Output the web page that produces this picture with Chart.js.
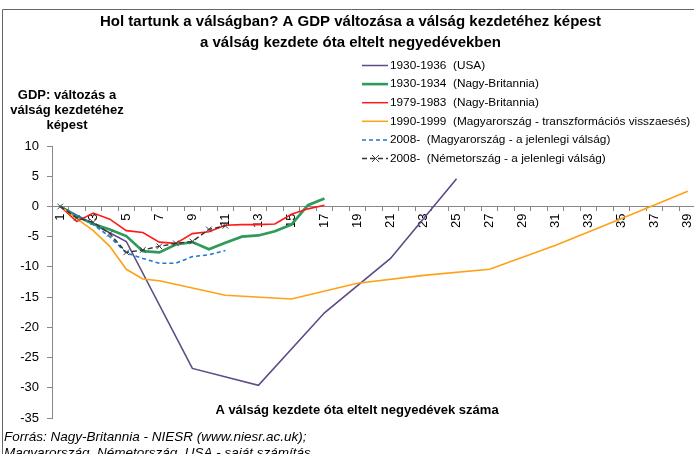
<!DOCTYPE html>
<html>
<head>
<meta charset="utf-8">
<script src="https://cdn.jsdelivr.net/npm/chart.js@4.4.1/dist/chart.umd.min.js"></script>
<style>
  html, body { margin: 0; background: #fff; overflow: hidden; }
  #wrap { width: 694px; height: 454px; position: relative; overflow: hidden; }
</style>
</head>
<body>
<div id="wrap"><canvas id="myChart" width="701" height="454"></canvas></div>
<script>
// negyedévek (x tengely)
const quarters = ['1','2','3','4','5','6','7','8','9','10','11','12','13','14','15','16','17','18','19','20',
    '21','22','23','24','25','26','27','28','29','30','31','32','33','34','35','36','37','38','39'];
const yTicks = [10, 5, 0, -5, -10, -15, -20, -25, -30, -35];

const seriesNames = [
    '1930-1936  (USA)',
    '1930-1934  (Nagy-Britannia)',
    '1979-1983  (Nagy-Britannia)',
    '1990-1999  (Magyarország - transzformációs visszaesés)',
    '2008-  (Magyarország - a jelenlegi válság)',
    '2008-  (Németország - a jelenlegi válság)'
];

// GDP változás (%) a válság kezdetéhez képest
const usa1930 = [0, null, null, null, -5.8, null, null, null, -26.8, null, null, null, -29.6, null, null, null,
    -17.6, null, null, null, -8.6, null, null, null, 4.6];
const uk1930 = [0, -1.6, -2.9, -3.8, -4.9, -7.4, -7.6, -6.3, -5.9, -7.1, -6.0, -5.0, -4.8, -4.1, -3.0, 0.2, 1.3];
const uk1979 = [0, -2.5, -1.1, -2.1, -4.0, -4.3, -5.9, -6.1, -4.5, -4.2, -3.1, -3.0, -3.0, -2.9, -1.3, -0.4, 0.2];
const hu1990 = [0, -2.0, -4.0, -6.6, -10.4, -12.0, -12.3, null, null, null, -14.7, null, null, null, -15.3, null,
    null, null, -12.7, null, null, null, -11.4, null, null, null, -10.4, null, null, null, -6.4, null,
    null, null, -2.0, null, null, null, 2.5];
const hu2008 = [0, -1.5, -3.0, -5.0, -7.7, -8.6, -9.4, -9.4, -8.3, -8.0, -7.3];
const de2008 = [0, -1.9, -2.6, -4.5, -7.6, -7.2, -6.6, -6.1, -5.8, -3.8, -3.2];

const FONT = '"Liberation Sans", Arial, sans-serif';
Chart.defaults.font.family = FONT;
Chart.defaults.color = '#000';

const datasets = [
    { label: seriesNames[0], data: usa1930, borderColor: '#5e4b86', borderWidth: 1.6 },
    { label: seriesNames[1], data: uk1930, borderColor: '#2f9a5b', borderWidth: 2.7 },
    { label: seriesNames[2], data: uk1979, borderColor: '#ff1a1a', borderWidth: 1.6 },
    { label: seriesNames[3], data: hu1990, borderColor: '#ffa114', borderWidth: 1.6 },
    { label: seriesNames[4], data: hu2008, borderColor: '#1f78cc', borderWidth: 1.6, borderDash: [4, 3] },
    { label: seriesNames[5], data: de2008, borderColor: '#333333', borderWidth: 1.4, borderDash: [5, 3],
      pointStyle: 'crossRot', pointRadius: 4, pointBorderColor: '#444', pointBorderWidth: 1 }
];
datasets.forEach(d => { d.fill = false; d.tension = 0; d.spanGaps = true; if (d.pointRadius === undefined) d.pointRadius = 0; });
// a fekete vonal legyen felül
datasets.forEach((d, i) => { d.order = datasets.length - i; });

// feliratok, jelmagyarázat, keret
const decor = {
    id: 'decor',
    afterDraw(chart) {
        const c = chart.ctx;
        c.save();
        // keret
        c.strokeStyle = '#666';
        c.lineWidth = 1;
        c.beginPath();
        c.moveTo(2.5, 454);
        c.lineTo(2.5, 9.5);
        c.lineTo(701, 9.5);
        c.stroke();

        // y tengely címe
        c.fillStyle = '#000';
        c.textAlign = 'center';
        c.textBaseline = 'middle';
        c.font = 'bold 13px ' + FONT;
        ['GDP: változás a', 'válság kezdetéhez', 'képest'].forEach((t, i) => c.fillText(t, 67, 95 + i * 15));

        // x tengely címe
        c.fillText('A válság kezdete óta eltelt negyedévek száma', 357, 410);

        // forrás
        c.textAlign = 'left';
        c.font = 'italic 13.5px ' + FONT;
        c.fillText('Forrás: Nagy-Britannia - NIESR (www.niesr.ac.uk);', 4, 437);
        c.fillText('Magyarország, Németország, USA - saját számítás', 4, 453);

        // jelmagyarázat
        c.font = '11.8px ' + FONT;
        chart.data.datasets.forEach((d, i) => {
            const y = 65.5 + i * 18.6;
            c.strokeStyle = d.borderColor;
            c.lineWidth = d.borderWidth > 2 ? 2.6 : 1.5;
            c.setLineDash(d.borderDash || []);
            c.beginPath();
            c.moveTo(362, y);
            c.lineTo(388, y);
            c.stroke();
            c.setLineDash([]);
            if (d.pointStyle === 'crossRot') {
                c.strokeStyle = '#444';
                c.lineWidth = 1;
                c.beginPath();
                c.moveTo(372, y - 3.5); c.lineTo(379, y + 3.5);
                c.moveTo(379, y - 3.5); c.lineTo(372, y + 3.5);
                c.stroke();
            }
            c.fillStyle = '#000';
            c.fillText(d.label, 390, y);
        });
        c.restore();
    }
};

new Chart(document.getElementById('myChart').getContext('2d'), {
    type: 'line',
    data: { labels: quarters, datasets: datasets },
    options: {
        responsive: false,
        animation: false,
        events: [],
        layout: { padding: { top: 0, right: 0, bottom: 36, left: 0 } },
        plugins: {
            legend: { display: false },
            tooltip: { enabled: false },
            title: {
                display: true,
                text: ['Hol tartunk a válságban? A GDP változása a válság kezdetéhez képest',
                       'a válság kezdete óta eltelt negyedévekben'],
                font: { size: 15, weight: 'bold', lineHeight: 1.4 },
                color: '#000',
                padding: { top: 11, bottom: 93 }
            }
        },
        scales: {
            x: {
                position: { y: 0 },
                offset: true,
                grid: { offset: true, drawOnChartArea: false, drawTicks: true, tickLength: 4, color: '#888' },
                border: { color: '#888' },
                ticks: {
                    autoSkip: false, maxRotation: 90, minRotation: 90, padding: 3,
                    font: { size: 13 },
                    callback: (v, i) => (i % 2 === 0 ? quarters[i] : '')
                },
                afterFit: s => { s.paddingLeft = 0; s.paddingRight = 0; }
            },
            y: {
                min: -35, max: 10,
                afterBuildTicks: s => { s.ticks = yTicks.map(v => ({ value: v })); },
                grid: { drawOnChartArea: false, drawTicks: true, tickLength: 5, color: '#888' },
                border: { color: '#888' },
                ticks: { padding: 8, font: { size: 13 } },
                afterFit: s => { s.width = 52; }
            }
        }
    },
    plugins: [decor]
});
</script>
</body>
</html>
